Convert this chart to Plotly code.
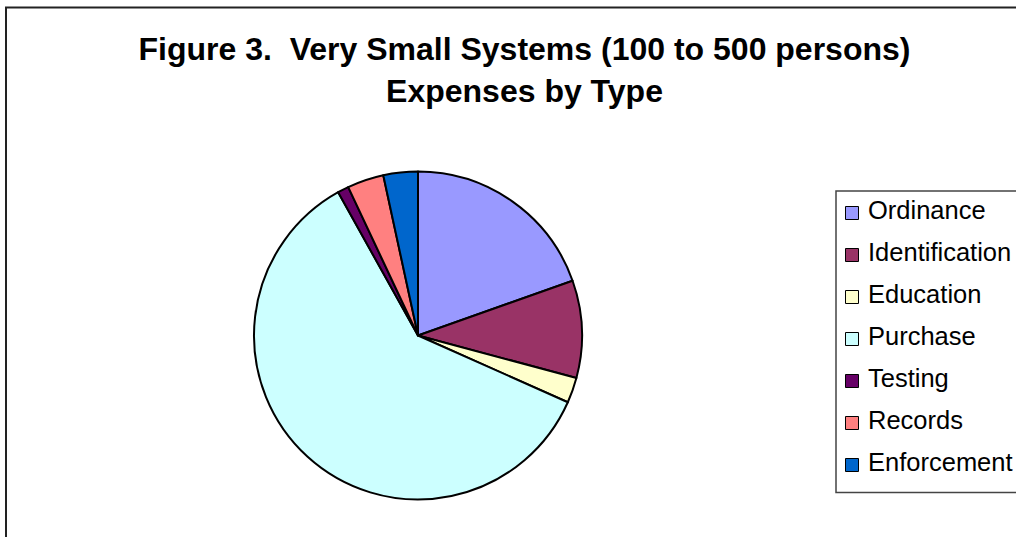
import plotly.graph_objects as go

W, H = 1016, 537

labels = ["Ordinance", "Identification", "Education", "Purchase", "Testing", "Records", "Enforcement"]
values = [19.6, 9.6, 2.5, 60.3, 1.1, 3.6, 3.4]
colors = ["#9999FF", "#993366", "#FFFFCC", "#CCFFFF", "#660066", "#FF8080", "#0066CC"]
title_lines = ["Figure 3.  Very Small Systems (100 to 500 persons)", "Expenses by Type"]

FONT = "Liberation Sans, Arial, sans-serif"

# pie geometry in pixels
cx, cy, r = 418, 335.5, 164

def px_x(x):
    return x / W

def px_y(y):
    return 1 - y / H

fig = go.Figure()
fig.add_trace(go.Pie(
    labels=labels,
    values=values,
    sort=False,
    direction="clockwise",
    rotation=0,
    marker=dict(colors=colors, line=dict(color="black", width=2)),
    textinfo="none",
    hoverinfo="label+percent",
    showlegend=False,
    domain=dict(x=[px_x(cx - r), px_x(cx + r)], y=[px_y(cy + r), px_y(cy - r)]),
))

shapes = []
annotations = []

# outer chart border
shapes.append(dict(type="rect", xref="paper", yref="paper",
                   x0=px_x(6), x1=px_x(1030), y0=px_y(560), y1=px_y(7.5),
                   line=dict(color="#222222", width=2), fillcolor="rgba(0,0,0,0)", layer="above"))

# legend box
shapes.append(dict(type="rect", xref="paper", yref="paper",
                   x0=px_x(836), x1=px_x(1030), y0=px_y(492.5), y1=px_y(191),
                   line=dict(color="#444444", width=1.5), fillcolor="white", layer="below"))

leg_top, leg_step = 213, 42
for i, (lab, col) in enumerate(zip(labels, colors)):
    yc = leg_top + i * leg_step
    shapes.append(dict(type="rect", xref="paper", yref="paper",
                       x0=px_x(845.5), x1=px_x(858.5), y0=px_y(yc + 6.5), y1=px_y(yc - 6.5),
                       line=dict(color="black", width=1), fillcolor=col, layer="above"))
    annotations.append(dict(text=lab, xref="paper", yref="paper",
                            x=px_x(866), y=px_y(yc - 3), xanchor="left", yanchor="middle",
                            showarrow=False, font=dict(family=FONT, size=25.5, color="black")))

fig.update_layout(
    width=W, height=H,
    margin=dict(l=0, r=0, t=0, b=0),
    paper_bgcolor="white",
    plot_bgcolor="white",
    title=dict(text="<b>" + "<br>".join(title_lines) + "</b>",
               x=524.5 / W, xanchor="center", y=1 - 60 / H, yanchor="top",
               font=dict(family=FONT, size=32, color="black")),
    shapes=shapes,
    annotations=annotations,
)

fig.write_html("out.html")
